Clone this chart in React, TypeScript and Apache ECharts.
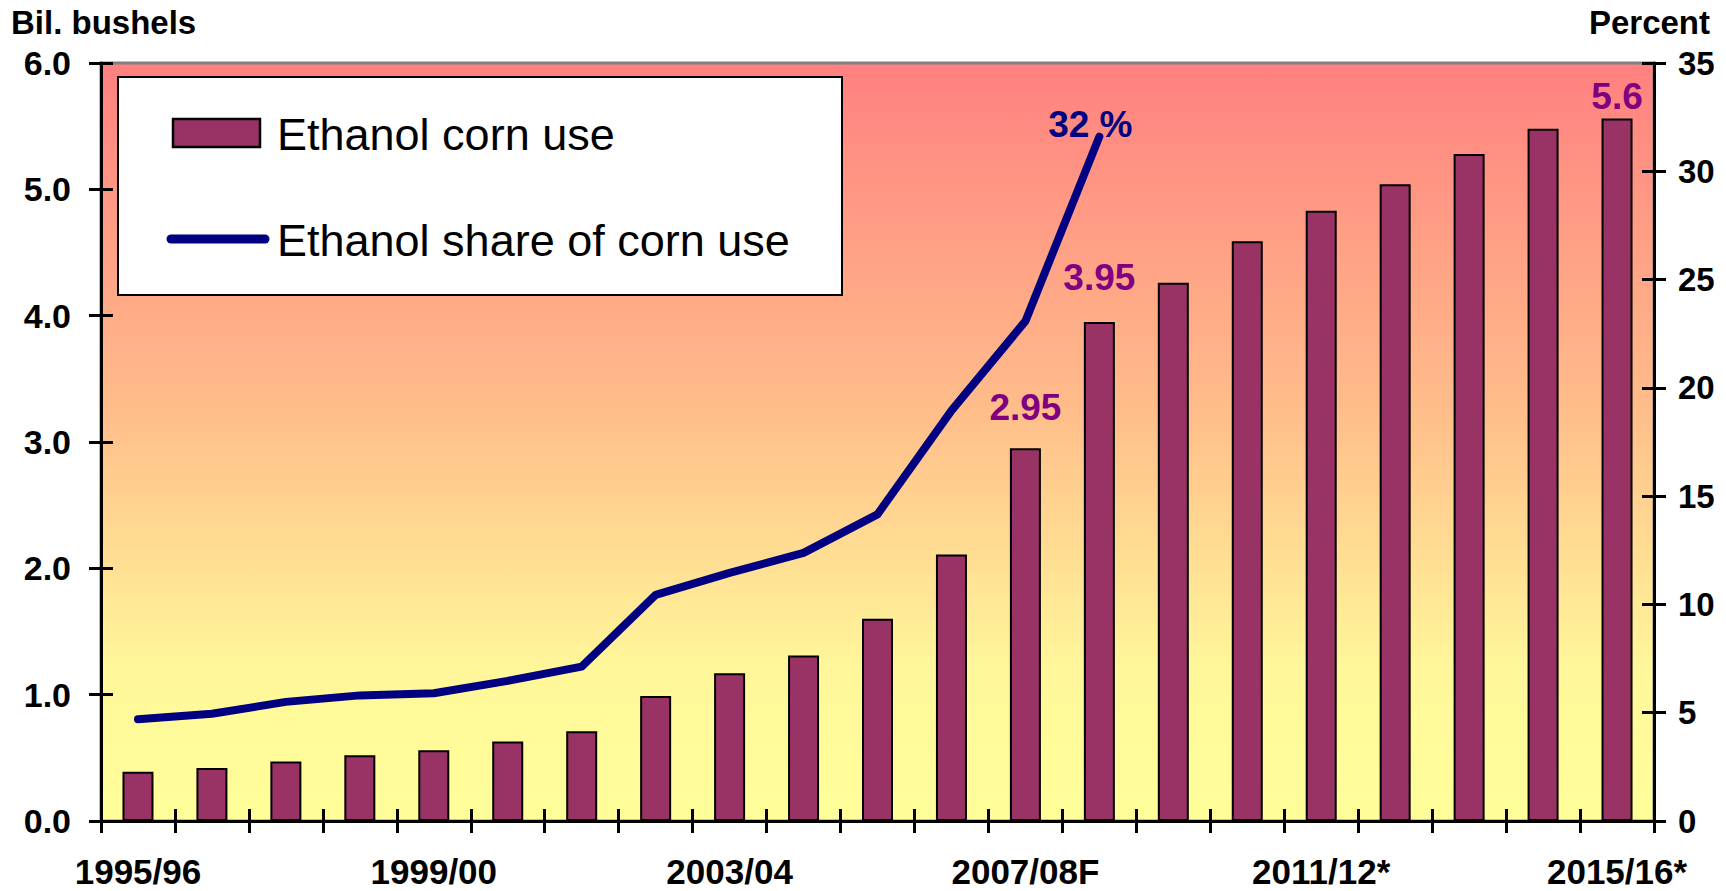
import React, { useEffect, useRef } from "react";
import * as echarts from "echarts";

const categories = [
  "1995/96", "1996/97", "1997/98", "1998/99", "1999/00", "2000/01", "2001/02",
  "2002/03", "2003/04", "2004/05", "2005/06", "2006/07", "2007/08F", "2008/09",
  "2009/10", "2010/11", "2011/12*", "2012/13", "2013/14", "2014/15", "2015/16*",
];
const cornUse = [
  0.39, 0.42, 0.47, 0.52, 0.56, 0.63, 0.71, 0.99, 1.17, 1.31, 1.6, 2.11, 2.95,
  3.95, 4.26, 4.59, 4.83, 5.04, 5.28, 5.48, 5.56,
];
const sharePct = [
  4.7, 4.95, 5.5, 5.8, 5.9, 6.47, 7.13, 10.44, 11.46, 12.38, 14.16, 18.95,
  23.08, 31.6,
];
const seriesNames = ["Ethanol corn use", "Ethanol share of corn use"];
const barLabelIndex = [12, 13, 20];
const barLabelText = ["2.95", "3.95", "5.6"];
const barLabelDistance = [22, 26, 4];
const lineLabelText = "32 %";
const leftTicks = { min: 0, max: 6, interval: 1 };
const rightTicks = { min: 0, max: 35, interval: 5 };

const FONT = '"Liberation Sans", Arial, sans-serif';
const BAR_COLOR = "#993366";
const LINE_COLOR = "#000080";

export default function App() {
  const ref = useRef<HTMLDivElement>(null);
  useEffect(() => {
    const chart = echarts.init(ref.current!, undefined, { renderer: "svg" });

    const barData = cornUse.map((v, i) => {
      const k = barLabelIndex.indexOf(i);
      if (k < 0) return v;
      return {
        value: v,
        label: {
          show: true,
          position: "top",
          distance: barLabelDistance[k],
          formatter: barLabelText[k],
          color: "#800080",
          fontSize: 37,
          fontWeight: "bold",
          fontFamily: FONT,
        },
      };
    });
    const lineData = sharePct.map((v, i) =>
      i === sharePct.length - 1
        ? {
            value: v,
            label: {
              show: true,
              position: "top",
              distance: 0,
              offset: [-9, 7],
              formatter: lineLabelText,
              color: LINE_COLOR,
              fontSize: 37,
              fontWeight: "bold",
              fontFamily: FONT,
            },
          }
        : v
    );

    const axisLineStyle = { color: "#000", width: 3 };
    const tickLabel = {
      color: "#000",
      fontSize: 34,
      fontWeight: "bold",
      fontFamily: FONT,
    };

    chart.setOption({
      animation: false,
      backgroundColor: "#fff",
      textStyle: { fontFamily: FONT },
      grid: {
        left: 101,
        right: 72,
        top: 63,
        bottom: 70,
        show: true,
        borderColor: "#808080",
        borderWidth: 3,
        backgroundColor: new echarts.graphic.LinearGradient(0, 0, 0, 1, [
          { offset: 0, color: "#FF8080" },
          { offset: 0.45, color: "#FFBC8A" },
          { offset: 0.8, color: "#FFF79A" },
          { offset: 1, color: "#FFFF99" },
        ]),
      },
      xAxis: [
        {
          type: "category",
          data: categories,
          position: "bottom",
          boundaryGap: true,
          axisLine: { show: true, lineStyle: axisLineStyle },
          axisTick: {
            show: true,
            interval: 0,
            length: 12,
            lineStyle: axisLineStyle,
          },
          axisLabel: {
            ...tickLabel,
            fontSize: 35,
            lineHeight: 34,
            interval: 3,
            margin: 33,
          },
          splitLine: { show: false },
        },
        {
          type: "category",
          data: categories,
          position: "bottom",
          boundaryGap: true,
          axisLine: { show: false },
          axisTick: {
            show: true,
            inside: true,
            interval: 0,
            length: 12,
            lineStyle: axisLineStyle,
          },
          axisLabel: { show: false },
          splitLine: { show: false },
        },
      ],
      yAxis: [
        {
          type: "value",
          position: "left",
          ...leftTicks,
          axisLine: { show: true, lineStyle: axisLineStyle },
          axisTick: { show: true, length: 12, lineStyle: axisLineStyle },
          axisLabel: {
            ...tickLabel,
            margin: 30,
            formatter: (v: number) => v.toFixed(1),
          },
          splitLine: { show: false },
        },
        {
          type: "value",
          position: "right",
          ...rightTicks,
          axisLine: { show: true, lineStyle: axisLineStyle },
          axisTick: { show: true, length: 12, lineStyle: axisLineStyle },
          axisLabel: { ...tickLabel, fontSize: 33, margin: 24 },
          splitLine: { show: false },
        },
        {
          type: "value",
          position: "left",
          ...leftTicks,
          axisLine: { show: false },
          axisTick: { show: true, inside: true, length: 12, lineStyle: axisLineStyle },
          axisLabel: { show: false },
          splitLine: { show: false },
        },
        {
          type: "value",
          position: "right",
          ...rightTicks,
          axisLine: { show: false },
          axisTick: { show: true, inside: true, length: 12, lineStyle: axisLineStyle },
          axisLabel: { show: false },
          splitLine: { show: false },
        },
      ],
      graphic: [
        {
          type: "text",
          left: 11,
          top: 6,
          style: {
            text: "Bil. bushels",
            font: `bold 33px ${FONT}`,
            fill: "#000",
          },
        },
        {
          type: "text",
          right: 16,
          top: 6,
          style: {
            text: "Percent",
            font: `bold 33px ${FONT}`,
            fill: "#000",
          },
        },
        {
          type: "group",
          z: 100,
          children: [
            {
              type: "rect",
              shape: { x: 118, y: 77, width: 724, height: 218 },
              style: { fill: "#fff", stroke: "#000", lineWidth: 2 },
              z: 100,
            },
            {
              type: "rect",
              shape: { x: 173, y: 119, width: 87, height: 28 },
              style: { fill: BAR_COLOR, stroke: "#000", lineWidth: 2.5 },
              z: 101,
            },
            {
              type: "line",
              shape: { x1: 171, y1: 239, x2: 265, y2: 239 },
              style: { stroke: LINE_COLOR, lineWidth: 9, lineCap: "round" },
              z: 101,
            },
            {
              type: "text",
              x: 277,
              y: 134,
              style: {
                text: seriesNames[0],
                font: `45px ${FONT}`,
                fill: "#000",
                verticalAlign: "middle",
              },
              z: 101,
            },
            {
              type: "text",
              x: 277,
              y: 240,
              style: {
                text: seriesNames[1],
                font: `45px ${FONT}`,
                fill: "#000",
                verticalAlign: "middle",
              },
              z: 101,
            },
          ],
        },
      ],
      series: [
        {
          name: seriesNames[0],
          type: "bar",
          xAxisIndex: 0,
          yAxisIndex: 0,
          barWidth: 31,
          itemStyle: { color: BAR_COLOR, borderColor: "#000", borderWidth: 2 },
          data: barData,
        },
        {
          name: seriesNames[1],
          type: "line",
          xAxisIndex: 0,
          yAxisIndex: 1,
          symbol: "circle",
          symbolSize: 1,
          showSymbol: true,
          lineStyle: { color: LINE_COLOR, width: 8, cap: "round", join: "round" },
          itemStyle: { color: LINE_COLOR },
          data: lineData,
          z: 5,
        },
      ],
    });
    return () => chart.dispose();
  }, []);
  return (
    <div
      ref={ref}
      style={{ position: "fixed", left: 0, top: 0, width: 1726, height: 891 }}
    />
  );
}
